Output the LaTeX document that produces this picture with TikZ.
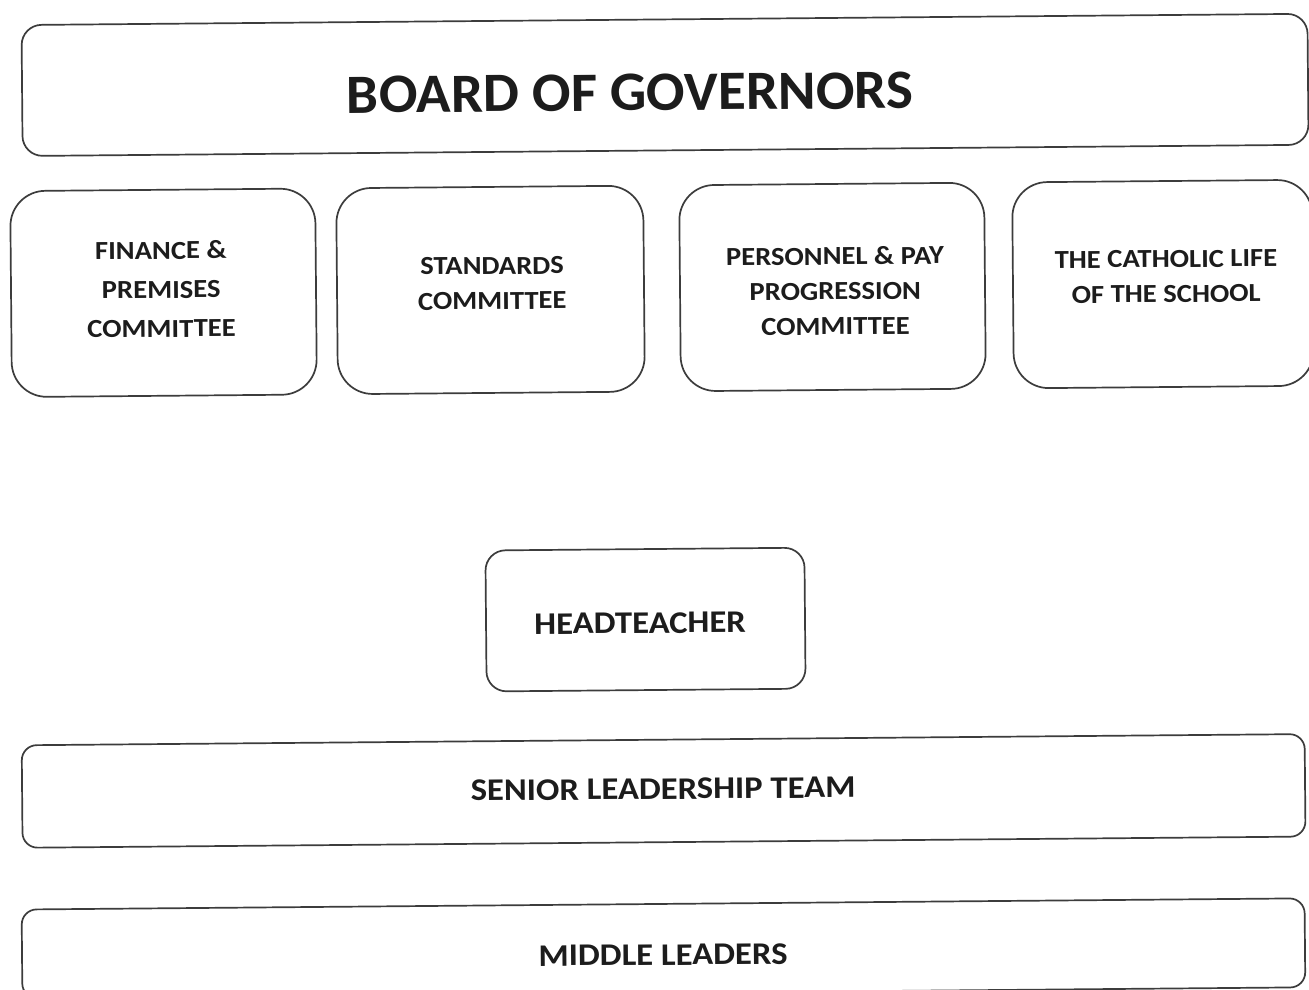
\documentclass[tikz,border=0pt]{standalone}
\usepackage{fontspec}
\setmainfont{Carlito}
\newfontfamily\widefont[FakeStretch=1.1]{Carlito}
\newfontfamily\titlefont[FakeStretch=1.03]{Carlito}
\definecolor{inkline}{HTML}{3C3C3C}
\definecolor{inktext}{HTML}{1C1C1C}
\begin{document}
\begin{tikzpicture}[x=1pt,y=-1pt,
  box/.style={draw=inkline, line width=1.7pt, fill=white, inner sep=0pt},
  lbl/.style={text=inktext, align=center, inner sep=0pt},
  title/.style={lbl, font=\titlefont\fontsize{55.5}{60}\selectfont\bfseries},
  cttee/.style={lbl, font=\widefont\fontsize{26}{35}\selectfont\bfseries},
  wide/.style={lbl, font=\widefont\fontsize{31.5}{36}\selectfont\bfseries}]
\useasboundingbox[fill=white] (0,0) rectangle (1309,989);
\begin{scope}[rotate around={0.5:(654,494)}, transform shape]
  % governing board
  \node[box, rounded corners=20pt, minimum width=1286pt, minimum height=131pt] (board) at (668.6,85) {};
  \node[title] (boardtxt) at (633.5,92.5) {BOARD OF GOVERNORS};
  % committees
  \node[box, rounded corners=35pt, minimum width=305pt, minimum height=206pt] (fin) at (165.3,288.5) {};
  \node[box, rounded corners=35pt, minimum width=307pt, minimum height=206pt] (std) at (492.3,288.5) {};
  \node[box, rounded corners=35pt, minimum width=305pt, minimum height=206pt] (pers) at (834.3,288.5) {};
  \node[box, rounded corners=35pt, minimum width=300pt, minimum height=206pt] (cath) at (1164.8,288.5) {};
  \node[cttee, font=\widefont\fontsize{26}{39}\selectfont\bfseries] (fintxt) at (163,285) {FINANCE \&\\PREMISES\\COMMITTEE};
  \node[cttee] (stdtxt) at (494,282) {STANDARDS\\COMMITTEE};
  \node[cttee] (perstxt) at (837,292.5) {PERSONNEL \& PAY\\PROGRESSION\\COMMITTEE};
  \node[cttee] (cathtxt) at (1168,281) {THE CATHOLIC LIFE\\OF THE SCHOOL};
  % staff
  \node[box, rounded corners=20pt, minimum width=319pt, minimum height=141pt] (head) at (644.4,619.5) {};
  \node[wide] (headtxt) at (639,623) {HEADTEACHER};
  \node[box, rounded corners=15pt, minimum width=1283pt, minimum height=102.5pt] (slt) at (661,791) {};
  \node[wide] (slttxt) at (660.5,789) {SENIOR LEADERSHIP TEAM};
  \node[box, rounded corners=15pt, minimum width=1283pt, minimum height=89pt] (mid) at (659.5,948.5) {};
  \node[wide] (midtxt) at (659,955) {MIDDLE LEADERS};
\end{scope}
\end{tikzpicture}
\end{document}
